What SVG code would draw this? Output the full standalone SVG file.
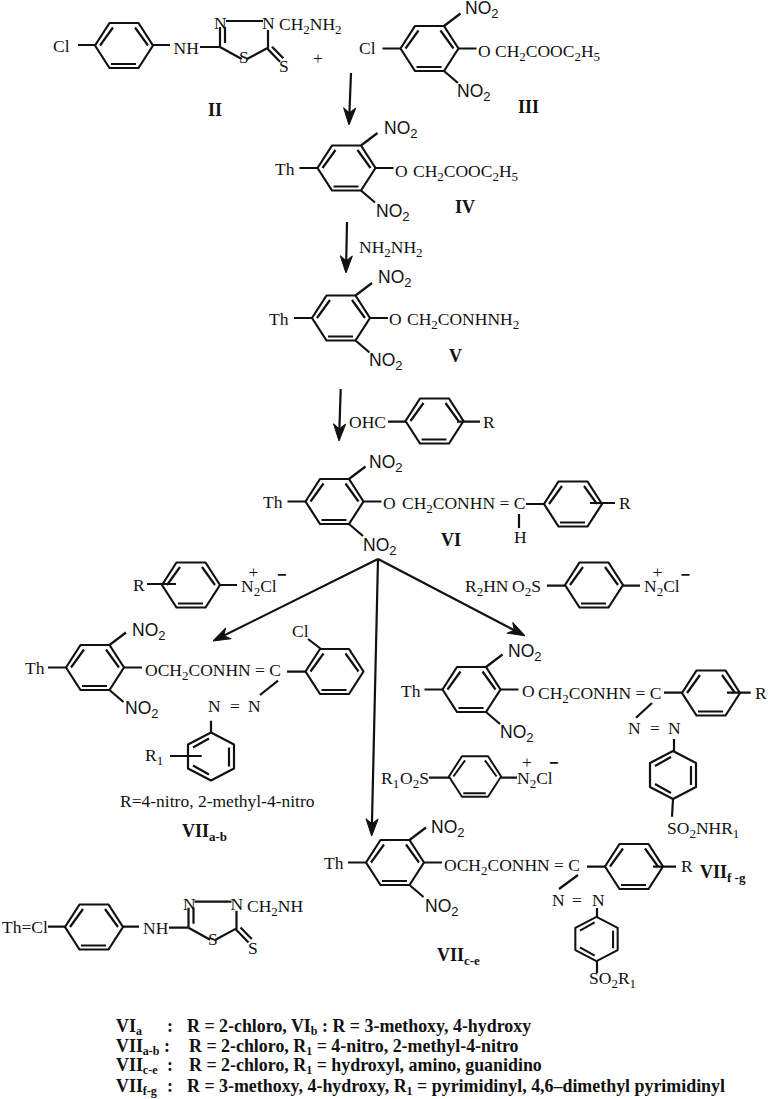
<svg xmlns="http://www.w3.org/2000/svg" width="768" height="1099" viewBox="0 0 768 1099">
<style>
text{font-family:"Liberation Serif","Times New Roman",serif;font-size:17.5px;fill:#111}
.n{font-family:"Liberation Sans",Arial,sans-serif;font-size:17.5px}
.b{font-weight:bold;font-size:18px}
.l{font-weight:bold;font-size:17.9px}
.p{font-family:"Liberation Sans",Arial,sans-serif;font-weight:bold;font-size:16px}
tspan.s{font-size:13px;baseline-shift:-4px}
.l tspan.s{font-size:12px;baseline-shift:-3px}
line,path,polygon{stroke:#111;stroke-width:2.2;fill:none;stroke-linejoin:round}
.a{marker-end:url(#arrow)}
#head{fill:#111;stroke-width:1}
</style>
<defs>
<marker id="arrow" markerUnits="userSpaceOnUse" viewBox="-18 -7 18 14" refX="-6" refY="0" markerWidth="18" markerHeight="14" orient="auto"><path id="head" d="M0 0L-17-6-12 0-17 6Z"/></marker>
<g id="ring"><polygon points="-29,0 -14.5,-22.5 14.5,-22.5 29,0 14.5,22.5 -14.5,22.5"/><path d="M-24 0L-11-18M11-18L24 0M-13 18.5H12"/></g>
<g id="ringv"><polygon points="0,-24 23,-12 23,12 0,24 -23,12 -23,-12"/><path d="M-18-9L-2-18M18-9V10M-18 9L-2 18"/></g>
<g id="aryl"><use href="#ring"/><path d="M-47 0H-29M29 0H47M14.5-22.5L31-35M14.5 22.5L28.5 34.5"/></g>
<g id="het"><path d="M6-26H43M0 0V-20M5-20V-4M0 0L21.7 12M27 12L48 .7V-17M47 1.3L60 14.7M52-.3L63.3 11.3"/></g>
</defs>

<g id="connectors">
<line class="a" x1="351" y1="73" x2="349.2" y2="119"/>
<line class="a" x1="347" y1="222" x2="346.1" y2="267"/>
<line class="a" x1="340.7" y1="389" x2="339.2" y2="435"/>
<line class="a" x1="378" y1="559" x2="218.4" y2="638.3"/>
<line class="a" x1="378" y1="559" x2="371.8" y2="830"/>
<line class="a" x1="378" y1="559" x2="519.7" y2="633"/>
</g>

<g id="II">
<use href="#ring" x="124" y="45.5"/>
<path d="M78 45H95M153 45H170M200 47H220"/>
<use href="#het" x="220" y="47"/>
<text x="53" y="52">Cl</text><text x="173.5" y="54">NH</text>
<text x="214" y="29">N</text><text x="262" y="29">N</text>
<text x="279" y="30">CH<tspan class="s">2</tspan>NH<tspan class="s">2</tspan></text>
<text x="239" y="63">S</text><text x="279" y="72">S</text>
<text x="208" y="116" class="b">II</text>
</g>
<text id="plus" x="313" y="64">+</text>

<g id="III">
<use href="#aryl" x="429.5" y="48.5"/>
<text x="359" y="54">Cl</text>
<text class="n" x="465" y="14">NO<tspan class="s">2</tspan></text>
<text x="478" y="57">O</text>
<text x="495" y="57">CH<tspan class="s">2</tspan>COOC<tspan class="s">2</tspan>H<tspan class="s">5</tspan></text>
<text class="n" x="457" y="97">NO<tspan class="s">2</tspan></text>
<text class="b" x="518" y="113">III</text>
</g>

<g id="IV">
<use href="#aryl" x="346.5" y="168"/>
<text x="275" y="175">Th</text>
<text class="n" x="384" y="134">NO<tspan class="s">2</tspan></text>
<text x="395" y="177">O</text>
<text x="413" y="177">CH<tspan class="s">2</tspan>COOC<tspan class="s">2</tspan>H<tspan class="s">5</tspan></text>
<text class="n" x="376" y="217">NO<tspan class="s">2</tspan></text>
<text class="b" x="455" y="213">IV</text>
</g>

<text id="reagent-hydrazine" x="359" y="253">NH<tspan class="s">2</tspan>NH<tspan class="s">2</tspan></text>

<g id="V">
<use href="#aryl" x="341" y="318"/>
<text x="269" y="325">Th</text>
<text class="n" x="378" y="283">NO<tspan class="s">2</tspan></text>
<text x="389" y="325">O</text>
<text x="407" y="325">CH<tspan class="s">2</tspan>CONHNH<tspan class="s">2</tspan></text>
<text class="n" x="369" y="366">NO<tspan class="s">2</tspan></text>
<text class="b" x="449" y="362">V</text>
</g>

<g id="reagent-aldehyde">
<use href="#ring" x="434.5" y="421"/>
<path d="M388 421.7H406M457 421.7H480"/>
<text x="349" y="428">OHC</text><text x="483" y="428">R</text>
</g>

<g id="VI">
<use href="#aryl" x="334.5" y="501.5"/>
<use href="#ring" x="573" y="504"/>
<path d="M526 504H544M590 503H615M519 514V528"/>
<text x="263" y="508">Th</text>
<text class="n" x="369" y="468">NO<tspan class="s">2</tspan></text>
<text x="383" y="509">O</text>
<text x="402" y="509">CH<tspan class="s">2</tspan>CONHN = C</text>
<text x="619" y="509">R</text><text x="514" y="543">H</text>
<text class="n" x="363" y="551">NO<tspan class="s">2</tspan></text>
<text class="b" x="441" y="546">VI</text>
</g>

<g id="diazonium-R">
<use href="#ring" x="191" y="585"/>
<path d="M147 584H176M220 585H237"/>
<text x="133" y="591">R</text>
<text><tspan x="248.5" y="578">+</tspan><tspan x="241" y="592">N<tspan class="s">2</tspan>Cl</tspan></text>
<text class="p" x="277" y="580">−</text>
</g>

<g id="diazonium-R2">
<use href="#ring" x="594" y="585"/>
<path d="M547 585.7H565M623 585.7H640"/>
<text x="465" y="592">R<tspan class="s">2</tspan>HN</text>
<text x="512" y="592">O<tspan class="s">2</tspan>S</text>
<text><tspan x="652.5" y="578">+</tspan><tspan x="644" y="592">N<tspan class="s">2</tspan>Cl</tspan></text>
<text class="p" x="680.5" y="580">−</text>
</g>

<g id="VIIa-b">
<use href="#aryl" x="95" y="667.5"/>
<use href="#ring" x="334.5" y="671.5"/>
<use href="#ringv" x="211" y="756.5"/>
<path d="M287 671.7H306M308 639L321 649M278 680.7L260 695M211 720.7V732.5M170 756H201.7"/>
<text x="25" y="674">Th</text>
<text class="n" x="132" y="636">NO<tspan class="s">2</tspan></text>
<text x="145" y="676">OCH<tspan class="s">2</tspan>CONHN = C</text>
<text class="n" x="125" y="714">NO<tspan class="s">2</tspan></text>
<text x="292" y="637">Cl</text>
<text x="208" y="712">N</text><text x="230" y="712">=</text><text x="248" y="712">N</text>
<text x="145" y="761">R<tspan class="s">1</tspan></text>
<text x="120" y="807">R=4-nitro, 2-methyl-4-nitro</text>
<text class="b" x="182" y="837">VII<tspan class="s">a-b</tspan></text>
</g>

<g id="VIIf-g">
<use href="#aryl" x="471.5" y="689.5"/>
<use href="#ring" x="711" y="693"/>
<use href="#ringv" x="673" y="775"/>
<path d="M664 692.7H682M727 692.7H750.7M652 703L636 717.7M674 739V751M673 799L672 816.7"/>
<text x="401" y="697">Th</text>
<text class="n" x="508" y="657">NO<tspan class="s">2</tspan></text>
<text x="522" y="697">O</text>
<text x="538" y="699">CH<tspan class="s">2</tspan>CONHN = C</text>
<text x="755" y="699">R</text>
<text class="n" x="500" y="738">NO<tspan class="s">2</tspan></text>
<text x="628" y="734">N</text><text x="650" y="734">=</text><text x="668" y="734">N</text>
<text x="667" y="834">SO<tspan class="s">2</tspan>NHR<tspan class="s">1</tspan></text>
<text class="b" x="700" y="878">VII<tspan class="s">f -g</tspan></text>
</g>

<g id="diazonium-R1">
<use href="#ring" transform="translate(475 776.5) scale(.9)"/>
<path d="M429 777.7H449M501 777.7H517"/>
<text x="381" y="784">R<tspan class="s">1</tspan></text>
<text x="400" y="784">O<tspan class="s">2</tspan>S</text>
<text><tspan x="522" y="768">+</tspan><tspan x="517" y="784">N<tspan class="s">2</tspan>Cl</tspan></text>
<text class="p" x="549" y="768">−</text>
</g>

<g id="VIIc-e">
<use href="#aryl" x="395" y="862.5"/>
<use href="#ring" x="634" y="866.5"/>
<use href="#ringv" transform="translate(596.5 939) scale(.92)"/>
<path d="M587 866.7H605M653 866.7H676M578 875L559 889M597 908V917M597 961V973"/>
<text x="324" y="869">Th</text>
<text class="n" x="431" y="833">NO<tspan class="s">2</tspan></text>
<text x="444" y="871">OCH<tspan class="s">2</tspan>CONHN = C</text>
<text class="n" x="425" y="912">NO<tspan class="s">2</tspan></text>
<text x="681" y="872">R</text>
<text x="552" y="906">N</text><text x="572" y="906">=</text><text x="592" y="906">N</text>
<text x="589" y="984">SO<tspan class="s">2</tspan>R<tspan class="s">1</tspan></text>
<text class="b" x="437" y="961">VII<tspan class="s">c-e</tspan></text>
</g>

<g id="Th-definition">
<use href="#ring" x="94" y="927"/>
<path d="M48 926.7H65M122.7 926.7H139M169 927.7H188.5"/>
<use href="#het" x="188.5" y="927.7"/>
<text x="2" y="933">Th=Cl</text>
<text x="143" y="934">NH</text>
<text x="183" y="910">N</text><text x="230.5" y="910">N</text>
<text x="247" y="912">CH<tspan class="s">2</tspan>NH</text>
<text x="208" y="945">S</text><text x="248" y="954">S</text>
</g>

<g id="legend">
<text class="l" x="116" y="1032">VI<tspan class="s">a</tspan></text>
<text class="l" x="167" y="1032">:</text>
<text class="l" x="187" y="1032">R = 2-chloro, VI<tspan class="s">b</tspan> : R = 3-methoxy, 4-hydroxy</text>
<text class="l" x="116" y="1052">VII<tspan class="s">a-b</tspan> :</text>
<text class="l" x="189" y="1052">R = 2-chloro, R<tspan class="s">1</tspan> = 4-nitro, 2-methyl-4-nitro</text>
<text class="l" x="116" y="1071">VII<tspan class="s">c-e</tspan></text>
<text class="l" x="167" y="1071">:</text>
<text class="l" x="189" y="1071">R = 2-chloro, R<tspan class="s">1</tspan> = hydroxyl, amino, guanidino</text>
<text class="l" x="116" y="1092">VII<tspan class="s">f-g</tspan></text>
<text class="l" x="167" y="1092">:</text>
<text class="l" x="187" y="1092">R = 3-methoxy, 4-hydroxy, R<tspan class="s">1</tspan> = pyrimidinyl, 4,6–dimethyl pyrimidinyl</text>
</g>
</svg>
